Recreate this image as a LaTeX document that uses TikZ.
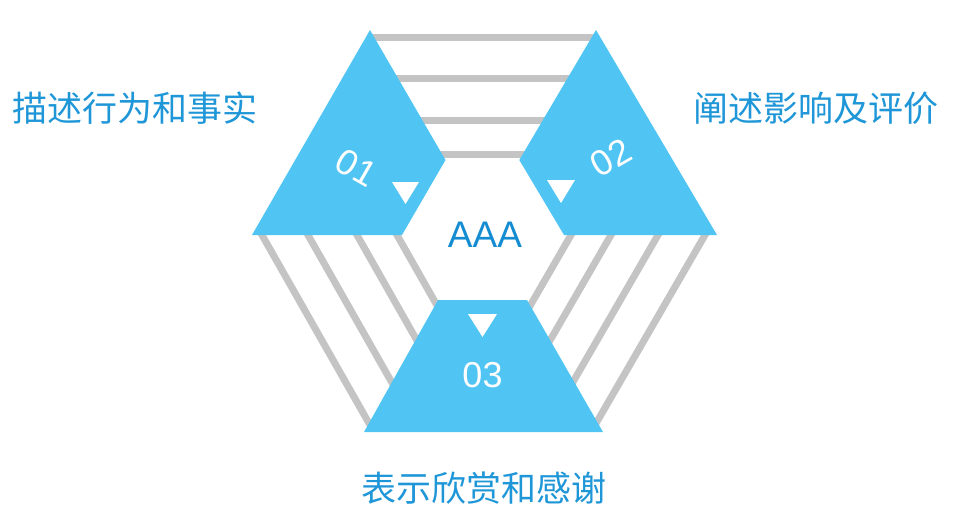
\documentclass[tikz,border=0pt]{standalone}
\usepackage{fontspec}
\setmainfont{Liberation Sans}
\newfontfamily\cjk{Noto Sans CJK SC}
\definecolor{tri}{RGB}{80,196,242}
\definecolor{stripe}{RGB}{196,196,196}
\definecolor{lab}{RGB}{30,150,215}
\definecolor{mid}{RGB}{20,140,210}
\begin{document}
\begin{tikzpicture}[x=1pt,y=-1pt,
  stripeline/.style={draw=stripe,line width=7pt},
  blk/.style={fill=tri},
  tick/.style={fill=white},
  num/.style={text=white,font=\fontsize{36}{40}\selectfont,inner sep=0pt},
  lbl/.style={text=lab,font=\cjk\fontsize{35}{40}\selectfont,inner sep=0pt}]
\useasboundingbox (0,0) rectangle (956,515);
% top stripes
\foreach \y/\a/\b in {37/371/595, 78/394.7/570.7, 120/419/545.9, 154/438.7/525.8}
  \draw[stripeline] (\a,\y) -- (\b,\y);
% lower stripes
\begin{scope}
  \clip (0,232) rectangle (956,429);
  \foreach \x in {262,308,357,397}
    \draw[stripeline] (\x-5.7,225) -- (\x+116.5,440);
  \foreach \x in {705,658,611,571}
    \draw[stripeline] (\x+5.8,225) -- (\x-118.6,440);
\end{scope}
% blue blocks
\fill[blk] (370,30) -- (445.5,160) -- (402,235) -- (252,235) -- cycle;
\fill[blk] (596,30) -- (717,235) -- (564,235) -- (519.3,160) -- cycle;
\fill[blk] (438,300) -- (527,300) -- (603,432) -- (364,432) -- cycle;
% white marks
\fill[tick] (392,182) -- (419,182) -- (405.5,204) -- cycle;
\fill[tick] (547,180) -- (575,180) -- (561,203) -- cycle;
\fill[tick] (468,314) -- (497,314) -- (482.5,337) -- cycle;
% numbers
\node[num,rotate=-30] (n1) at (356.5,167.5) {01};
\node[num,rotate=30] (n2) at (611,157.5) {02};
\node[num] (n3) at (482.5,375) {03};
\node[text=mid,font=\fontsize{37}{40}\selectfont,inner sep=0pt] (c) at (485,235) {AAA};
% labels
\node[lbl] (l1) at (135,108) {描述行为和事实};
\node[lbl] (l2) at (816,108) {阐述影响及评价};
\node[lbl] (l3) at (484,488) {表示欣赏和感谢};
\end{tikzpicture}
\end{document}
